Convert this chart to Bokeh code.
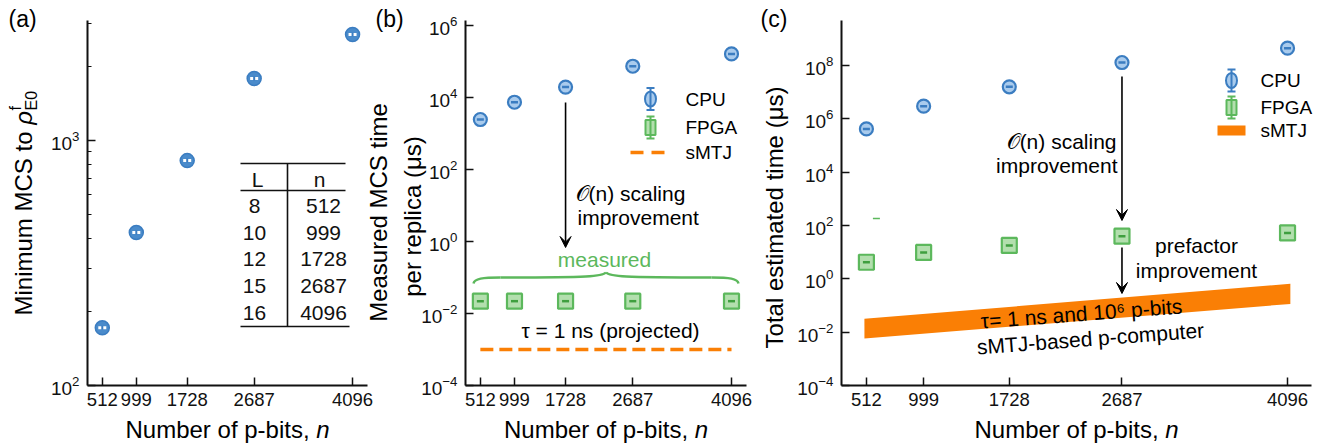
import math
from bokeh.plotting import figure
from bokeh.layouts import row
from bokeh.models import FixedTicker, LogTickFormatter, Label, Arrow, VeeHead, Range1d
from bokeh.core.properties import value
from bokeh.embed import file_html
from bokeh.resources import INLINE

# ---------------- data ----------------
n_bits = [512, 999, 1728, 2687, 4096]
lattice_L = [8, 10, 12, 15, 16]

# (a) minimum Monte Carlo sweeps to reach the target residual energy density
min_mcs = [172, 421, 828, 1790, 2710]

# (b) measured time per MCS per replica (us)
cpu_mcs_us = [2450, 7400, 19500, 74000, 163000]
fpga_mcs_us = [0.022, 0.022, 0.022, 0.022, 0.022]
smtj_mcs_n = [512, 4096]
smtj_mcs_us = [1e-3, 1e-3]

# (c) total estimated time (us)
cpu_total_us = [4.2e5, 3.0e6, 1.6e7, 1.3e8, 4.5e8]
fpga_total_us = [4.2, 9.8, 18.0, 40.0, 53.0]
stray_n = [597]
stray_us = [182]
smtj_band_n = [495, 4120]
smtj_band_lo = [0.0058, 0.115]
smtj_band_hi = [0.032, 0.65]

ticks_a = [100, 1000]
minor_ticks_a = [200, 300, 400, 500, 600, 700, 800, 900, 2000, 3000]
ticks_b = [1e-4, 1e-2, 1, 1e2, 1e4, 1e6]
ticks_c = [1e-4, 1e-2, 1, 1e2, 1e4, 1e6, 1e8]

# ---------------- styling ----------------
FONT = "Liberation Sans"
H = 447
TOP, BOTTOM = 20, 385
BLUE_LINE, BLUE_FILL = "#3b7dc1", "#a9cbed"
GREEN_LINE, GREEN_FILL, GREEN_DARK = "#5cb85c", "#b3dfae", "#3f9f3f"
ORANGE = "#fa7f05"


class Panel:
    """Axes box on the page (pixels) and its data ranges, used to place texts."""

    def __init__(self, left, right, xr, yr):
        self.left, self.right, self.xr, self.yr = left, right, xr, yr

    def x(self, sx):
        return self.xr[0] + (sx - self.left) / (self.right - self.left) * (self.xr[1] - self.xr[0])

    def y(self, sy):
        l0, l1 = math.log10(self.yr[0]), math.log10(self.yr[1])
        return 10 ** (l0 + (BOTTOM - sy) / (BOTTOM - TOP) * (l1 - l0))


def make_panel(P, fig_left, fig_right, yticks, minor=()):
    # the plotting frame fills the whole canvas; the axes sit at fixed data
    # locations so that titles and labels around them stay inside the frame
    p = figure(frame_width=fig_right - fig_left, frame_height=H,
               min_border_left=0, min_border_right=0, min_border_top=0, min_border_bottom=0,
               x_range=Range1d(P.x(fig_left), P.x(fig_right)),
               y_range=Range1d(P.y(H), P.y(0)), y_axis_type="log",
               output_backend="svg", toolbar_location=None)
    p.grid.visible = False
    p.outline_line_color = None
    p.xaxis.fixed_location = P.yr[0]
    p.yaxis.fixed_location = P.xr[0]
    p.xaxis.bounds = P.xr
    p.yaxis.bounds = P.yr
    for ax in (p.xaxis[0], p.yaxis[0]):
        ax.axis_line_width = 2
        ax.axis_line_color = "#111111"
        ax.major_tick_in = 8
        ax.major_tick_out = 0
        ax.minor_tick_in = 4
        ax.minor_tick_out = 0
        ax.major_tick_line_width = 1.5
        ax.minor_tick_line_width = 1.2
        ax.major_tick_line_color = "#111111"
        ax.minor_tick_line_color = "#111111"
        ax.major_label_text_font = FONT
        ax.major_label_text_color = "#111111"
    p.xaxis.ticker = FixedTicker(ticks=n_bits)
    p.xaxis.major_label_text_font_size = "18.5px"
    p.xaxis.major_label_standoff = 7
    p.yaxis.ticker = FixedTicker(ticks=yticks, minor_ticks=list(minor))
    p.yaxis.formatter = LogTickFormatter()
    p.yaxis.major_label_text_font_size = "19px"
    p.yaxis.major_label_standoff = 8
    return p


def add_text(p, P, sx, sy, text, size, align="center", angle=0.0,
             color="#000000", style="normal"):
    p.add_layout(Label(x=P.x(sx), y=P.y(sy), text=text, text_font=FONT,
                       text_font_size=f"{size}px", text_align=align,
                       text_baseline="middle", angle=angle, angle_units="deg",
                       text_color=color, text_font_style=style))


def x_axis_title(p, P):
    cx = (P.left + P.right) / 2
    start = cx - 102
    add_text(p, P, start, 428.5, "Number of p-bits, ", 24, align="left")
    add_text(p, P, start + 190.7, 428.5, "n", 24, align="left", style="italic")


def cpu_points(p, x, y):
    p.scatter(x, y, marker="circle", size=13, fill_color=BLUE_FILL,
              line_color=BLUE_LINE, line_width=2.2)
    p.scatter(x, y, marker="dash", size=7, line_color=BLUE_LINE, line_width=2.5)


def fpga_points(p, x, y):
    p.scatter(x, y, marker="square", size=15, fill_color=GREEN_FILL,
              line_color=GREEN_LINE, line_width=2.2)
    p.scatter(x, y, marker="dash", size=7, line_color=GREEN_DARK, line_width=2.5)


def legend_errbar(p, P, sx, sy, shape, fill, line):
    x = P.x(sx)
    y_lo, y_hi, y_mid = P.y(sy + 11), P.y(sy - 11), P.y(sy)
    p.scatter([x, x], [y_lo, y_hi], marker="dash", size=8, line_color=line, line_width=2)
    if shape == "circle":
        p.ellipse([x], [y_mid], width=11, height=15, width_units="screen",
                  height_units="screen", fill_color=fill, line_color=line, line_width=2)
    else:
        p.rect([x], [y_mid], width=10, height=15, width_units="screen",
               height_units="screen", fill_color=fill, line_color=line, line_width=2)
    p.segment([x], [y_lo], [x], [y_hi], line_color=line, line_width=2)


def arrow(p, x, y0, y1):
    p.add_layout(Arrow(end=VeeHead(size=11, fill_color="black", line_color="black"),
                       x_start=x, y_start=y0, x_end=x, y_end=y1,
                       line_color="black", line_width=1.6))


# ---------------- (a) ----------------
Pa = Panel(87, 367, (300, 4310), (100, 10 ** 3.49))
pa = make_panel(Pa, 0, 376, ticks_a, minor_ticks_a)
pa.scatter(n_bits, min_mcs, marker="circle", size=14, fill_color="#4a8bcb",
           line_color=BLUE_LINE, line_width=1.5)
pa.scatter(n_bits, min_mcs, marker="dash", size=8, line_color="white", line_width=3)
pa.scatter(n_bits, min_mcs, marker="dash", angle=math.pi / 2, size=4,
           line_color=BLUE_LINE, line_width=2)

# lattice-size table
row_y = [205, 232, 258, 285, 312]
pa.segment([Pa.x(240), Pa.x(240), Pa.x(240), Pa.x(287)],
           [Pa.y(163), Pa.y(190), Pa.y(326), Pa.y(163)],
           [Pa.x(345), Pa.x(345), Pa.x(349), Pa.x(287)],
           [Pa.y(163), Pa.y(190), Pa.y(326), Pa.y(326)],
           line_color="#111111", line_width=1.6)
pa.text([Pa.x(257), Pa.x(319)], [Pa.y(179), Pa.y(179)], text=["L", "n"],
        text_font=value(FONT), text_font_size=value("21px"),
        text_align="center", text_baseline="middle", text_color="#111111")
pa.text([Pa.x(254)] * len(lattice_L), [Pa.y(v) for v in row_y],
        text=[str(v) for v in lattice_L], text_font=value(FONT),
        text_font_size=value("21px"), text_align="center",
        text_baseline="middle", text_color="#111111")
pa.text([Pa.x(323)] * len(n_bits), [Pa.y(v) for v in row_y],
        text=[str(v) for v in n_bits], text_font=value(FONT),
        text_font_size=value("21px"), text_align="center",
        text_baseline="middle", text_color="#111111")

add_text(pa, Pa, 8, 18, "(a)", 23, align="left")
add_text(pa, Pa, 22.5, 315, "Minimum MCS to", 24, align="left", angle=90)
add_text(pa, Pa, 22.5, 124.3, "ρ", 24, align="left", angle=90, style="italic")
add_text(pa, Pa, 15, 110, "f", 16, align="left", angle=90)
add_text(pa, Pa, 30.5, 110, "E0", 16, align="left", angle=90)
x_axis_title(pa, Pa)

# ---------------- (b) ----------------
Pb = Panel(465, 746, (300, 4310), (1e-4, 10 ** 6.14))
pb = make_panel(Pb, 365, 758, ticks_b)
pb.margin = (0, 0, 0, -11)
pb.border_fill_color = None
pb.background_fill_color = None

pb.line(smtj_mcs_n, smtj_mcs_us, line_color=ORANGE, line_width=3.5, line_dash="13 6")
cpu_points(pb, n_bits, cpu_mcs_us)
fpga_points(pb, n_bits, fpga_mcs_us)

# brace over the measured FPGA points
bl, br, bm = 473, 738, 605.5
pb.bezier(x0=[Pb.x(bl), Pb.x(500), Pb.x(br), Pb.x(711)],
          y0=[Pb.y(283), Pb.y(277), Pb.y(283), Pb.y(277)],
          x1=[Pb.x(500), Pb.x(bm), Pb.x(711), Pb.x(bm)],
          y1=[Pb.y(277), Pb.y(272), Pb.y(277), Pb.y(272)],
          cx0=[Pb.x(474), Pb.x(590), Pb.x(737), Pb.x(621)],
          cy0=[Pb.y(278), Pb.y(277), Pb.y(278), Pb.y(277)],
          cx1=[Pb.x(482), Pb.x(602), Pb.x(729), Pb.x(609)],
          cy1=[Pb.y(277), Pb.y(276), Pb.y(277), Pb.y(276)],
          line_color=GREEN_LINE, line_width=2.5)

arrow(pb, n_bits[2], Pb.y(102), Pb.y(247))
add_text(pb, Pb, 575, 193, "𝒪(n) scaling", 21, align="left")
add_text(pb, Pb, 577, 217, "improvement", 21, align="left")
add_text(pb, Pb, 604, 259, "measured", 21, color=GREEN_LINE)
add_text(pb, Pb, 610, 330, "τ = 1 ns (projected)", 21)

# legend
legend_errbar(pb, Pb, 650, 98.5, "circle", BLUE_FILL, BLUE_LINE)
legend_errbar(pb, Pb, 650, 127, "square", GREEN_FILL, GREEN_LINE)
pb.line([Pb.x(630), Pb.x(664)], [Pb.y(152), Pb.y(152)], line_color=ORANGE,
        line_width=3.5, line_dash="13 8")
add_text(pb, Pb, 685, 98.5, "CPU", 19, align="left")
add_text(pb, Pb, 685, 127, "FPGA", 19, align="left")
add_text(pb, Pb, 685, 152, "sMTJ", 19, align="left")

add_text(pb, Pb, 375, 18, "(b)", 23, align="left")
add_text(pb, Pb, 378, 212, "Measured MCS time", 24, angle=90)
add_text(pb, Pb, 412, 216, "per replica (μs)", 24, angle=90)
x_axis_title(pb, Pb)

# ---------------- (c) ----------------
Pc = Panel(841, 1311, (300, 4300), (1e-4, 10 ** 9.69))
pc = make_panel(Pc, 758, 1330, ticks_c)

pc.patch(smtj_band_n + smtj_band_n[::-1], smtj_band_lo + smtj_band_hi[::-1],
         fill_color=ORANGE, line_color=None)
cpu_points(pc, n_bits, cpu_total_us)
fpga_points(pc, n_bits, fpga_total_us)
pc.scatter(stray_n, stray_us, marker="dash", size=7, line_color=GREEN_LINE, line_width=1.5)

arrow(pc, n_bits[3], Pc.y(76), Pc.y(220))
arrow(pc, n_bits[3], Pc.y(247), Pc.y(293))
add_text(pc, Pc, 1116, 141, "𝒪(n) scaling", 21, align="right")
add_text(pc, Pc, 1117, 165, "improvement", 21, align="right")
add_text(pc, Pc, 1196, 245, "prefactor", 21)
add_text(pc, Pc, 1196, 270, "improvement", 21)
add_text(pc, Pc, 1081, 313, "τ= 1 ns and 10⁶ p-bits", 21, angle=4.3)
add_text(pc, Pc, 1090, 338, "sMTJ-based p-computer", 21, angle=4.3)

legend_errbar(pc, Pc, 1231, 80, "circle", BLUE_FILL, BLUE_LINE)
legend_errbar(pc, Pc, 1231, 107, "square", GREEN_FILL, GREEN_LINE)
pc.rect([Pc.x(1231)], [Pc.y(130)], width=28, height=10, width_units="screen",
        height_units="screen", fill_color=ORANGE, line_color=None)
add_text(pc, Pc, 1260, 80, "CPU", 19, align="left")
add_text(pc, Pc, 1260, 107, "FPGA", 19, align="left")
add_text(pc, Pc, 1260, 130, "sMTJ", 19, align="left")

add_text(pc, Pc, 760, 18, "(c)", 23, align="left")
add_text(pc, Pc, 774, 217, "Total estimated time (μs)", 24, angle=90)
x_axis_title(pc, Pc)

layout = row(pa, pb, pc)
open("out.html", "w").write(file_html(layout, INLINE))
